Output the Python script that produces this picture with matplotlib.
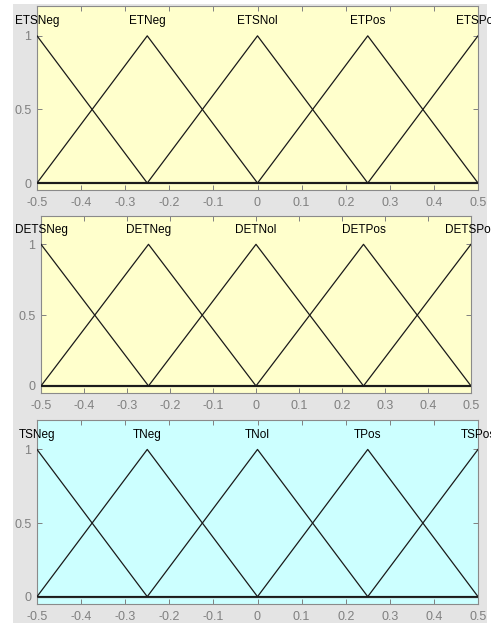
import numpy as np
import matplotlib
matplotlib.use("Agg")
import matplotlib.pyplot as plt
from matplotlib.patches import Rectangle

# membership function data (triangles, MATLAB plotmf style)
centers = [-0.5, -0.25, 0.0, 0.25, 0.5]
half_width = 0.25
names_top = ['ETSNeg', 'ETNeg', 'ETSNol', 'ETPos', 'ETSPos']
names_mid = ['DETSNeg', 'DETNeg', 'DETNol', 'DETPos', 'DETSPos']
names_bot = ['TSNeg', 'TNeg', 'TNol', 'TPos', 'TSPos']
xticks = [-0.5, -0.4, -0.3, -0.2, -0.1, 0, 0.1, 0.2, 0.3, 0.4, 0.5]
xticklabels = ['-0.5', '-0.4', '-0.3', '-0.2', '-0.1', '0', '0.1', '0.2', '0.3', '0.4', '0.5']
yticks = [0, 0.5, 1]
yticklabels = ['0', '0.5', '1']

plt.rcParams['font.family'] = ['Liberation Sans', 'DejaVu Sans']

fig = plt.figure(figsize=(4.91, 6.23), dpi=100)
fig.patch.set_facecolor('white')
fig.patches.append(Rectangle((13/491, 0), 474/491, 619/623, transform=fig.transFigure,
                             facecolor='#e4e4e4', edgecolor='none', zorder=-10))

panels = [
    ([37/491, 1-190.4/623, 441/491, 184/623], '#ffffcc', names_top),
    ([41/491, 1-393/623, 430/491, 177/623], '#ffffcc', names_mid),
    ([37/491, 1-604/623, 441/491, 184/623], '#ccffff', names_bot),
]

x = np.linspace(-0.5, 0.5, 401)
for rect, bg, names in panels:
    ax = fig.add_axes(rect)
    ax.set_facecolor(bg)
    ax.axhline(0, color='#404040', lw=1.6, zorder=2)
    for c, n in zip(centers, names):
        y = np.clip(1 - np.abs(x - c) / half_width, 0, 1)
        ax.plot(x, y, color='#1a1a1a', lw=0.9, zorder=3)
        ax.text(c, 1.1, n, ha='center', va='center', fontsize=8.5, color='black', clip_on=False)
    ax.set_xlim(-0.5, 0.5)
    ax.set_ylim(-0.05, 1.2)
    ax.set_xticks(xticks)
    ax.set_xticklabels(xticklabels)
    ax.set_yticks(yticks)
    ax.set_yticklabels(yticklabels)
    ax.tick_params(direction='in', length=3.5, width=0.7, colors='#808080',
                   labelsize=9, top=True, right=True, pad=4)
    ax.tick_params(axis='x', pad=5)
    for s in ax.spines.values():
        s.set_color('#8a8a8a')
        s.set_linewidth(0.8)

fig.savefig('out.png', dpi=100)
